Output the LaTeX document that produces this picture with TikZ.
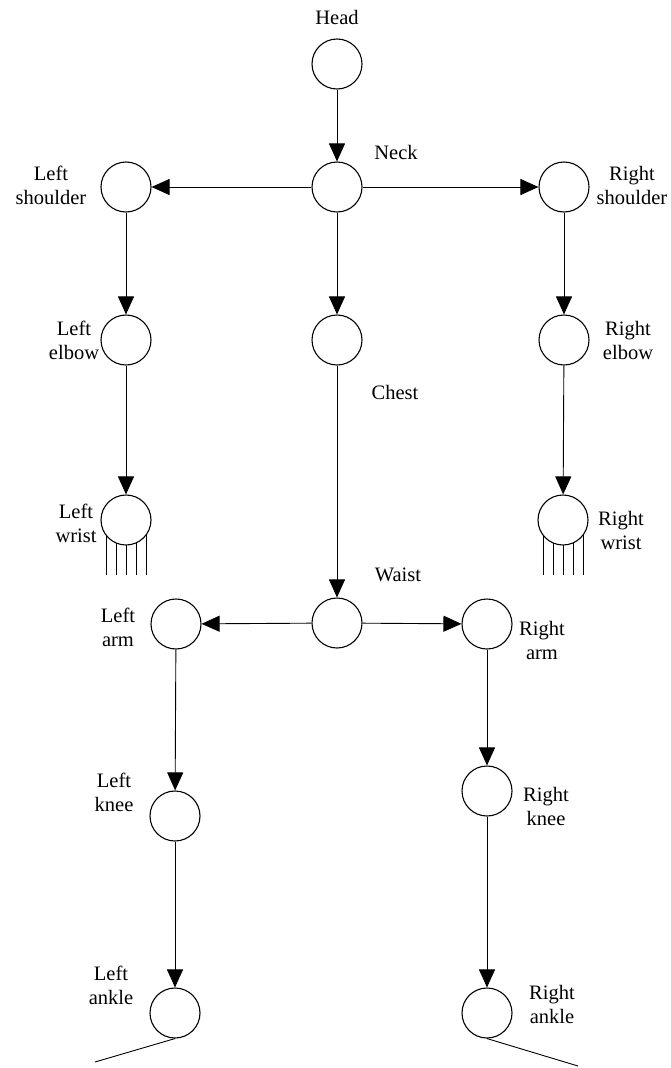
\documentclass[tikz,border=0pt]{standalone}
\usepackage{fontspec}
\setmainfont{Liberation Serif}
\usetikzlibrary{arrows.meta,calc}
\begin{document}
\begin{tikzpicture}[x=1pt,y=-1pt,
  joint/.style={circle,draw,line width=1.1pt,minimum size=50pt,inner sep=0pt},
  lbl/.style={align=center,inner sep=0pt,font=\fontsize{20.5}{24}\selectfont},
  bone/.style={line width=0.9pt,-{Triangle[length=18pt,width=16pt]}},
  limb/.style={line width=0.9pt}]
\useasboundingbox (0,0) rectangle (670,1068);

% joints
\node[joint] (head) at (337,64) {};
\node[joint] (neck) at (337,187) {};
\node[joint] (lsh) at (126,187) {};
\node[joint] (rsh) at (564,187) {};
\node[joint] (lel) at (126,340) {};
\node[joint] (chest) at (337,340) {};
\node[joint] (rel) at (564,340) {};
\node[joint] (lwr) at (126,520) {};
\node[joint] (rwr) at (563,520) {};
\node[joint] (waist) at (337,623) {};
\node[joint] (larm) at (176,624) {};
\node[joint] (rarm) at (487,624) {};
\node[joint] (lkn) at (175,816) {};
\node[joint] (rkn) at (487,791) {};
\node[joint] (lan) at (175,1013) {};
\node[joint] (ran) at (487,1013) {};

% labels
\node[lbl] (thead) at (337,17) {Head};
\node[lbl] (tneck) at (396,152) {Neck};
\node[lbl] (tlsh) at (51,185) {Left\\shoulder};
\node[lbl] (trsh) at (632,185) {Right\\shoulder};
\node[lbl] (tlel) at (74,340) {Left\\elbow};
\node[lbl] (trel) at (628,340) {Right\\elbow};
\node[lbl] (tchest) at (395,392) {Chest};
\node[lbl] (tlwr) at (76,523) {Left\\wrist};
\node[lbl] (trwr) at (621,530) {Right\\wrist};
\node[lbl] (twaist) at (398,575) {Waist};
\node[lbl] (tlarm) at (118,627) {Left\\arm};
\node[lbl] (trarm) at (542,640) {Right\\arm};
\node[lbl] (tlkn) at (114,792) {Left\\knee};
\node[lbl] (trkn) at (546,806) {Right\\knee};
\node[lbl] (tlan) at (111,985) {Left\\ankle};
\node[lbl] (tran) at (552,1004) {Right\\ankle};

% skeleton
\draw[bone] (head) -- (neck);
\draw[bone] (neck) -- (lsh);
\draw[bone] (neck) -- (rsh);
\draw[bone] (neck) -- (chest);
\draw[bone] (lsh) -- (lel);
\draw[bone] (lel) -- (lwr);
\draw[bone] (rsh) -- (rel);
\draw[bone] (rel) -- (rwr);
\draw[bone] (chest) -- (waist);
\draw[bone] (waist) -- (larm);
\draw[bone] (waist) -- (rarm);
\draw[bone] (larm) -- (lkn);
\draw[bone] (lkn) -- (lan);
\draw[bone] (rarm) -- (rkn);
\draw[bone] (rkn) -- (ran);

% fingers
\foreach \w in {lwr,rwr}{
  \foreach \dx in {-20,-10,0,10,20}{
    \draw[limb] ($(\w.center)+(\dx,{sqrt(625-\dx*\dx)})$) -- ($(\w.center)+(\dx,55)$);
  }
}

% feet
\coordinate (lfoot) at (95,1062);
\coordinate (rfoot) at (578,1066);
\draw[limb] (lan.south) -- (lfoot);
\draw[limb] (ran.south) -- (rfoot);
\end{tikzpicture}
\end{document}
